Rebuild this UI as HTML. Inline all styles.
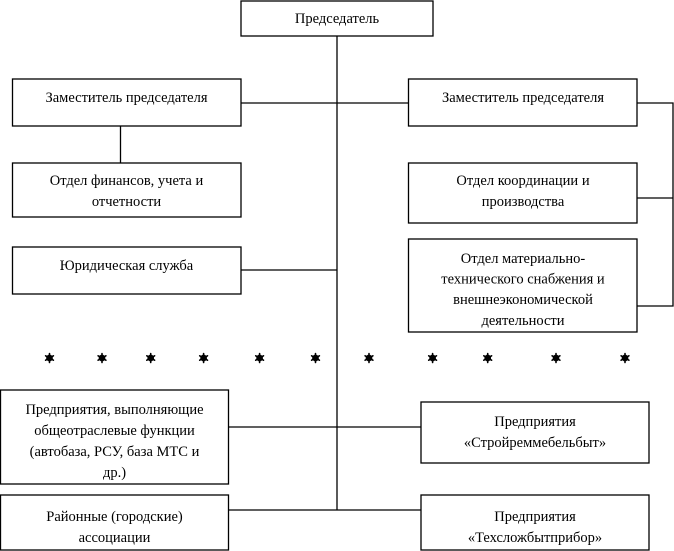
<!DOCTYPE html>
<html><head><meta charset="utf-8"><style>
html,body{margin:0;padding:0;background:#fff;width:674px;height:551px;overflow:hidden}
svg text{font-family:"Liberation Serif",serif;font-size:14.5px;fill:#000}
</style></head><body>
<svg width="674" height="551" xmlns="http://www.w3.org/2000/svg">
<defs>
<g id="s"><circle cx="0" cy="0" r="2.6"/><path d="M0 -4.5V4.5M-3.9 -2.2L3.9 2.2M-3.9 2.2L3.9 -2.2"/></g>
</defs>
<g fill="none" stroke="#000" stroke-width="1.3">
<rect x="241" y="1" width="192" height="35"/>
<rect x="12.5" y="79" width="228.5" height="47"/>
<rect x="408.5" y="79" width="228.5" height="47"/>
<rect x="12.5" y="163" width="228.5" height="54"/>
<rect x="408.5" y="163" width="228.5" height="60"/>
<rect x="12.5" y="247" width="228.5" height="47"/>
<rect x="408.5" y="239" width="228.5" height="93"/>
<rect x="0.5" y="390" width="228" height="94"/>
<rect x="421" y="402" width="228" height="61"/>
<rect x="0.5" y="495" width="228" height="55"/>
<rect x="421" y="495" width="228" height="55"/>
<path d="M337 36V510M241 103H408.5M120.5 126V163M241 270H337M637 103H673V306H637M637 198H673M228.5 427H421M228.5 510H421"/>
</g>
<g fill="#000" stroke="#000" stroke-width="1.6" stroke-linecap="round">
<use href="#s" x="49.5" y="358"/><use href="#s" x="102" y="358"/><use href="#s" x="150.7" y="358"/><use href="#s" x="203.6" y="358"/><use href="#s" x="259.6" y="358"/><use href="#s" x="315.5" y="358"/><use href="#s" x="369" y="358"/><use href="#s" x="432.6" y="358"/><use href="#s" x="487.7" y="358"/><use href="#s" x="556" y="358"/><use href="#s" x="625" y="358"/>
</g>
<g text-anchor="middle">
<text x="337" y="23">Председатель</text>
<text x="126.5" y="102">Заместитель председателя</text>
<text x="523" y="102">Заместитель председателя</text>
<text x="126.5" y="185">Отдел финансов, учета и</text>
<text x="126.5" y="206">отчетности</text>
<text x="523" y="185">Отдел координации и</text>
<text x="523" y="206">производства</text>
<text x="126.5" y="270">Юридическая служба</text>
<text x="523" y="263">Отдел материально-</text>
<text x="523" y="283.5">технического снабжения и</text>
<text x="523" y="304">внешнеэкономической</text>
<text x="523" y="325">деятельности</text>
<text x="114.5" y="414">Предприятия, выполняющие</text>
<text x="114.5" y="435">общеотраслевые функции</text>
<text x="114.5" y="456">(автобаза, РСУ, база МТС и</text>
<text x="114.5" y="477">др.)</text>
<text x="535" y="426">Предприятия</text>
<text x="535" y="447">«Стройреммебельбыт»</text>
<text x="114.5" y="521">Районные (городские)</text>
<text x="114.5" y="542">ассоциации</text>
<text x="535" y="521">Предприятия</text>
<text x="535" y="542">«Техсложбытприбор»</text>
</g>
</svg>
</body></html>
